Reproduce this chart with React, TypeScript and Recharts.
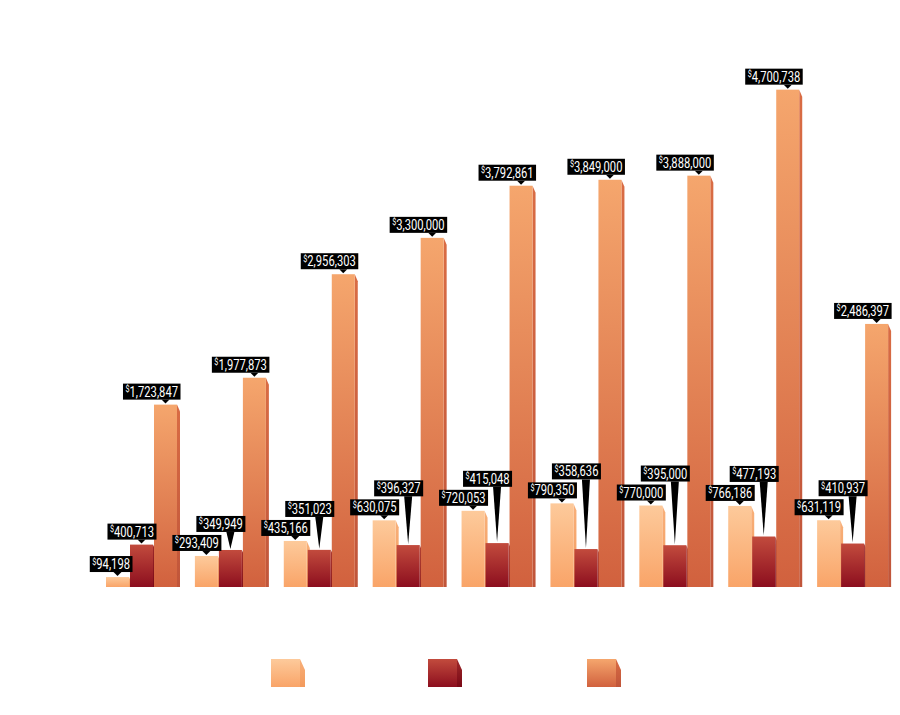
import React from 'react';
import { BarChart, Bar, XAxis, YAxis, LabelList } from 'recharts';

const categories = ['G1', 'G2', 'G3', 'G4', 'G5', 'G6', 'G7', 'G8', 'G9'];
const seriesLight = [94198, 293409, 435166, 630075, 720053, 790350, 770000, 766186, 631119];
const seriesRed = [400713, 349949, 351023, 396327, 415048, 358636, 395000, 477193, 410937];
const seriesOrange = [1723847, 1977873, 2956303, 3300000, 3792861, 3849000, 3888000, 4700738, 2486397];

const data = categories.map((name, i) => ({
  name,
  light: seriesLight[i],
  red: seriesRed[i],
  orange: seriesOrange[i],
}));

const FONT = "Roboto, 'DejaVu Sans', sans-serif";
const BOX_H = 16;
const SQUEEZE = 0.8;

let ctx: CanvasRenderingContext2D | null = null;
function measure(text: string, size: number) {
  if (!ctx) ctx = document.createElement('canvas').getContext('2d');
  if (!ctx) return text.length * size * 0.5;
  ctx.font = `${size}px ${FONT}`;
  return ctx.measureText(text).width;
}

const gradients = [
  { id: 'gLight', top: '#fdca9b', bottom: '#f9a468', sTop: '#f8b07a', sBottom: '#f39a5c' },
  { id: 'gRed', top: '#c24b3d', bottom: '#8c0e1e', sTop: '#9e2a2a', sBottom: '#7a0816' },
  { id: 'gOrange', top: '#f5a66d', bottom: '#d1613e', sTop: '#d96c44', sBottom: '#c0553a' },
];

function Defs() {
  return (
    <defs>
      {gradients.map((g) => (
        <React.Fragment key={g.id}>
          <linearGradient id={g.id} x1="0" y1="0" x2="0" y2="1">
            <stop offset="0%" stopColor={g.top} />
            <stop offset="100%" stopColor={g.bottom} />
          </linearGradient>
          <linearGradient id={g.id + 'Side'} x1="0" y1="0" x2="0" y2="1">
            <stop offset="0%" stopColor={g.sTop} />
            <stop offset="100%" stopColor={g.sBottom} />
          </linearGradient>
        </React.Fragment>
      ))}
    </defs>
  );
}

function Bar3D(props: any) {
  const { x, y, width, height, gid } = props;
  if (height <= 0) return null;
  const fw = width - 1;
  const bevel = Math.min(7, height);
  return (
    <g>
      <polygon
        points={`${x + fw},${y} ${x + fw + 3},${y + bevel} ${x + fw + 3},${y + height} ${x + fw},${y + height}`}
        fill={`url(#${gid}Side)`}
      />
      <rect x={x} y={y} width={fw} height={height} fill={`url(#${gid})`} />
    </g>
  );
}

function makeLabel(kind: 'light' | 'red' | 'orange') {
  return (p: any) => {
    const x = Number(p.x);
    const y = Number(p.y);
    const h = Number(p.height);
    const i = p.index;
    const cx = x + 11.5;
    let bottom = y - 5;
    if (kind === 'red') {
      // lift the label above the neighbouring light label when they would collide
      const lightTop = y + h - (h * seriesLight[i]) / seriesRed[i];
      const lightBoxTop = lightTop - 5 - BOX_H;
      bottom = Math.min(bottom, lightBoxTop - 3);
    }
    const digits = Number(p.value).toLocaleString('en-US');
    const textW = (measure('$', 9) + measure(digits, 14)) * SQUEEZE;
    const bw = textW + 5;
    const bx = cx + 15 - bw;
    return (
      <g>
        <polygon points={`${cx - 4},${bottom} ${cx + 4},${bottom} ${cx},${y - 1}`} fill="#000" />
        <rect x={bx} y={bottom - BOX_H} width={bw} height={BOX_H} fill="#000" />
        <text
          x={bx + 2.5}
          y={bottom - 3}
          fill="#fff"
          fontFamily={FONT}
          fontSize={14}
          textLength={textW}
          lengthAdjust="spacingAndGlyphs"
        >
          <tspan fontSize={9} dy={-4.5}>$</tspan>
          <tspan dy={4.5}>{digits}</tspan>
        </text>
      </g>
    );
  };
}

const legendItems = [
  { gid: 'lLight', x: 271, g: gradients[0] },
  { gid: 'lRed', x: 428, g: gradients[1] },
  { gid: 'lOrange', x: 587, g: gradients[2] },
];

function LegendSwatches() {
  return (
    <svg width={900} height={715} style={{ position: 'absolute', left: 0, top: 0, pointerEvents: 'none' }}>
      <defs>
        {legendItems.map((it) => (
          <React.Fragment key={it.gid}>
            <linearGradient id={it.gid} x1="0" y1="0" x2="0" y2="1">
              <stop offset="0%" stopColor={it.g.top} />
              <stop offset="100%" stopColor={it.g.bottom} />
            </linearGradient>
            <linearGradient id={it.gid + 'Side'} x1="0" y1="0" x2="0" y2="1">
              <stop offset="0%" stopColor={it.g.sTop} />
              <stop offset="100%" stopColor={it.g.sBottom} />
            </linearGradient>
          </React.Fragment>
        ))}
      </defs>
      {legendItems.map((it) => (
        <g key={it.gid}>
          <polygon
            points={`${it.x + 29},659 ${it.x + 34},670 ${it.x + 34},687 ${it.x + 29},687`}
            fill={`url(#${it.gid}Side)`}
          />
          <rect x={it.x} y={659} width={29} height={28} fill={`url(#${it.gid})`} />
        </g>
      ))}
    </svg>
  );
}

export default function App() {
  return (
    <div style={{ position: 'relative', width: 900, height: 715 }}>
      <style>{`body{margin:0}`}</style>
      <BarChart
        width={900}
        height={715}
        data={data}
        margin={{ top: 58, right: 2, left: 98, bottom: 128 }}
        barGap={0}
        barSize={24}
      >
        <Defs />
        <XAxis dataKey="name" hide />
        <YAxis hide domain={[0, 5000000]} />
        <Bar dataKey="light" isAnimationActive={false} shape={(p: any) => <Bar3D {...p} gid="gLight" />}>
          <LabelList dataKey="light" content={makeLabel('light')} />
        </Bar>
        <Bar dataKey="red" isAnimationActive={false} shape={(p: any) => <Bar3D {...p} gid="gRed" />}>
          <LabelList dataKey="red" content={makeLabel('red')} />
        </Bar>
        <Bar dataKey="orange" isAnimationActive={false} shape={(p: any) => <Bar3D {...p} gid="gOrange" />}>
          <LabelList dataKey="orange" content={makeLabel('orange')} />
        </Bar>
      </BarChart>
      <LegendSwatches />
    </div>
  );
}
